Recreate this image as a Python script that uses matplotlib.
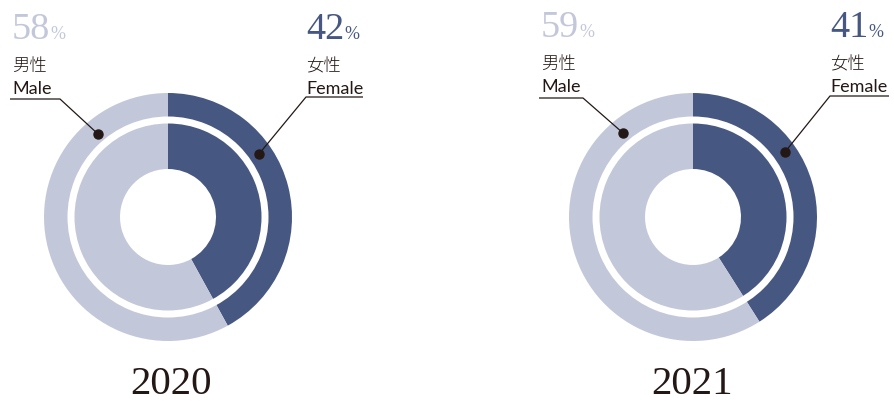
import matplotlib.pyplot as plt
from matplotlib.patches import Wedge

# Données
years = ["2020", "2021"]
female = [42, 41]
male = [58, 59]
labels_jp = ["女性", "男性"]
labels_en = ["Female", "Male"]

NAVY = "#465781"
LIGHT = "#c3c7da"
INK = "#231815"

W, H = 894, 402

fig = plt.figure(figsize=(W / 100, H / 100), dpi=100)
ax = fig.add_axes([0, 0, 1, 1])


def py(y):
    # coordonnées pixel (haut -> bas) vers coordonnées des axes
    return H - y


# position des graphiques (pixels)
centers = [(168, 218), (693, 218)]
r_out, r_in = 124, 48
left_x = [12, 541]
right_x = [306, 830]
dy = [0, -2]
male_line = [[(10, 100), (60, 100), (98, 135)], [(539, 99), (583, 99), (623, 134)]]
female_line = [[(363, 98), (306, 98), (259, 155)], [(889, 97), (830, 97), (785, 153)]]

for i, year in enumerate(years):
    cx, cy = centers[i]
    ax.pie([female[i], male[i]], center=(cx, py(cy)), radius=r_out,
           startangle=90, counterclock=False, colors=[NAVY, LIGHT],
           wedgeprops=dict(width=r_out - r_in, edgecolor="none", linewidth=0),
           frame=True)
    # anneau blanc
    ax.add_patch(Wedge((cx, py(cy)), 100.5, 0, 360, width=7,
                       facecolor="white", edgecolor="none"))

    o = dy[i]
    # valeurs en pourcentage
    for x, val, col in [(left_x[i], male[i], LIGHT), (right_x[i], female[i], NAVY)]:
        ax.text(x, py(39 + o), str(val), family="Liberation Serif",
                fontsize=27.5, color=col, va="baseline", ha="left")
        ax.text(x + 38, py(39 + o), "%", family="Liberation Serif",
                fontsize=13, color=col, va="baseline", ha="left")

    for x, k in [(left_x[i], 1), (right_x[i], 0)]:
        ax.text(x, py(71 + o), labels_jp[k], family=["Noto Sans CJK JP"],
                fontsize=12.5, weight="light", color=INK, va="baseline", ha="left")
        ax.text(x, py(94 + o), labels_en[k], family=["Lato", "DejaVu Sans"],
                fontsize=13, color=INK, va="baseline", ha="left")

    # lignes de rappel
    for pts in (male_line[i], female_line[i]):
        xs = [p[0] for p in pts]
        ys = [py(p[1]) for p in pts]
        ax.plot(xs, ys, color=INK, lw=0.9, solid_capstyle="butt")
        ax.plot(xs[-1], ys[-1], "o", color=INK, ms=6.5)

    # année
    ax.text(cx + 3 - 4 * i, py(394), year, family="Liberation Serif",
            fontsize=29.5, color=INK, va="baseline", ha="center")

ax.set_xlim(0, W)
ax.set_ylim(0, H)
ax.set_aspect("equal")
ax.axis("off")

fig.savefig("out.png", dpi=100)
